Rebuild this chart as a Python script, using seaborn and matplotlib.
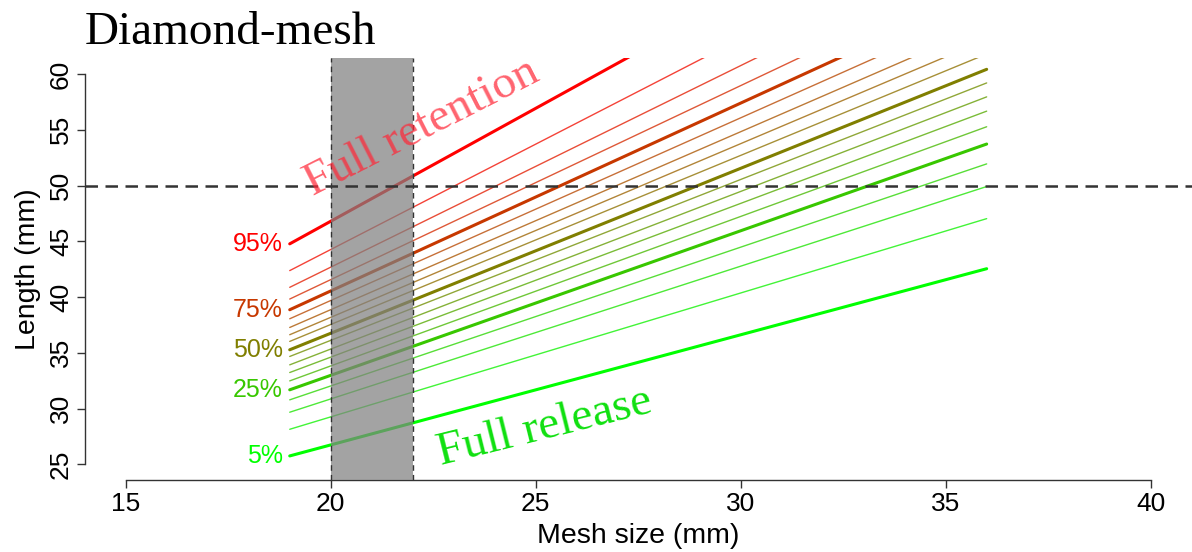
import matplotlib
matplotlib.use("Agg")
import matplotlib.pyplot as plt
import seaborn as sns

# retention percentiles and the length at which each is reached (mm)
percentiles = [5, 10, 15, 20, 25, 30, 35, 40, 45, 50, 55, 60, 65, 70, 75, 80, 85, 90, 95]
mesh_range = [19, 36]
length_at_19 = [25.75, 28.14, 29.67, 30.78, 31.68, 32.48, 33.23, 33.92, 34.67, 35.27,
                36.02, 36.62, 37.27, 38.05, 38.86, 39.82, 40.87, 42.37, 44.77]
length_at_36 = [42.54, 47.03, 49.91, 51.94, 53.72, 55.27, 56.67, 57.95, 59.2, 60.42,
                61.8, 63.1, 64.4, 65.9, 67.5, 69.4, 71.6, 74.5, 79.2]
labelled = [5, 25, 50, 75, 95]

legal_mesh = [20, 22]
reference_length = 50

x_ticks = [15, 20, 25, 30, 35, 40]
y_ticks = [25, 30, 35, 40, 45, 50, 55, 60]

sns.set_theme(style="ticks")
plt.rcParams["font.family"] = ["Liberation Sans", "DejaVu Sans"]
plt.rcParams["text.color"] = "black"
plt.rcParams["axes.labelcolor"] = "black"
plt.rcParams["xtick.color"] = "black"
plt.rcParams["ytick.color"] = "black"

fig = plt.figure(figsize=(11.92, 5.52), dpi=100)
ax = fig.add_axes([0.0711, 0.1306, 0.9286, 0.7636])

colors = sns.blend_palette(["#00ff00", "#ff0000"], n_colors=len(percentiles))

for pct, y0, y1, col in zip(percentiles, length_at_19, length_at_36, colors):
    thick = pct in labelled
    sns.lineplot(x=mesh_range, y=[y0, y1], color=col, ax=ax,
                 linewidth=2.2 if thick else 1.0, alpha=1.0 if thick else 0.78,
                 zorder=2)
    if thick:
        ax.annotate(f"{pct}%", xy=(mesh_range[0], y0), xytext=(-5, 0),
                    textcoords="offset points", ha="right", va="center",
                    color=col, fontsize=18)

# legal mesh band drawn over the lines
ax.axvspan(legal_mesh[0], legal_mesh[1], color="#808080", alpha=0.72, lw=0, zorder=3)
for xv in legal_mesh:
    ax.axvline(xv, color="#333333", lw=1.0, ls=(0, (4, 3)), zorder=4)
ax.axhline(reference_length, color="#333333", lw=1.8, ls=(0, (5, 3)), zorder=4)

ax.text(22.23, 55.22, "Full retention", family="Liberation Serif", fontsize=34,
        color="#ff2838", alpha=0.72, rotation=27, rotation_mode="anchor",
        ha="center", va="center", zorder=5)
ax.text(25.23, 28.26, "Full release", family="Liberation Serif", fontsize=34,
        color="#10e010", rotation=14, rotation_mode="anchor",
        ha="center", va="center", zorder=5)

ax.set_xlim(14, 41)
ax.set_ylim(23.6, 61.4)
ax.set_xticks(x_ticks)
ax.set_yticks(y_ticks)
ax.set_xlabel("Mesh size (mm)", fontsize=20.5, labelpad=5)
ax.set_ylabel("Length (mm)", fontsize=20.5, labelpad=6)

sns.despine(ax=ax)
ax.spines["left"].set_bounds(25, 60)
ax.spines["bottom"].set_bounds(15, 40)
for side in ["left", "bottom"]:
    ax.spines[side].set_color("#333333")
    ax.spines[side].set_linewidth(1.0)
ax.tick_params(axis="both", length=5.5, width=1.0, color="#333333",
               labelsize=19, pad=3)
for lab in ax.get_yticklabels():
    lab.set_rotation(90)
    lab.set_va("center")

fig.text(0.0711, 1 - 44 / 552, "Diamond-mesh", family="Liberation Serif",
         fontsize=34, ha="left", va="baseline")

fig.savefig("out.png", dpi=100)
